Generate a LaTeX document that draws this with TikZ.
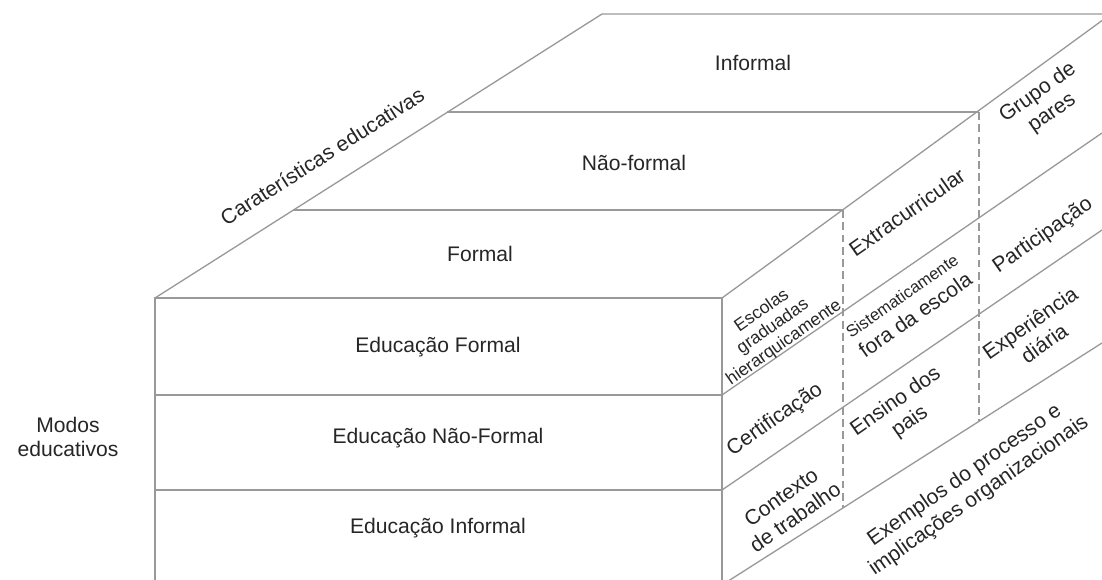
\documentclass[tikz,border=0pt]{standalone}
\usepackage{fontspec}
\setmainfont{Liberation Sans}
\usetikzlibrary{calc}

\tikzset{
  edge/.style={draw=gray!80, line width=0.75pt},
  hidden/.style={edge, dash pattern=on 4.5pt off 2.5pt},
  face/.style={font=\fontsize{12}{14}\selectfont, text=black!85, align=center},
  side/.style={face, rotate=35, inner sep=1pt},
  sidesmall/.style={side, font=\fontsize{10}{11}\selectfont},
}

\begin{document}
\begin{tikzpicture}[x=0.02cm,y=-0.02cm]
 \useasboundingbox (0,0) rectangle (1102,580);
 % front face
 \coordinate (ftl) at (155,298);
 \coordinate (ftr) at (722,298);
 \coordinate (f1l) at (155,395);
 \coordinate (f1r) at (722,395);
 \coordinate (f2l) at (155,490);
 \coordinate (f2r) at (722,490);
 \coordinate (fbl) at (155,585);
 \coordinate (fbr) at (722,585);
 % top face
 \coordinate (t1l) at (293,210);
 \coordinate (t1r) at (843,210);
 \coordinate (t2l) at (447,112);
 \coordinate (t2r) at (979,112);
 \coordinate (btl) at (602,14);
 \coordinate (btr) at (1111,14);
 % right face, where it leaves the picture
 \coordinate (b1) at (1102,133);
 \coordinate (b2) at (1102,230);
 \coordinate (b3) at (1102,343);
 \coordinate (d1) at (843,508);
 \coordinate (d2) at (979,421);

 \begin{scope}
 \clip (0,0) rectangle (1102,580);
 \draw[edge] (ftl) rectangle (fbr);
 \draw[edge] (f1l) -- (f1r);
 \draw[edge] (f2l) -- (f2r);
 \draw[edge] (ftl) -- node[face, sloped, above=9pt, pos=0.41] (carat) {Caraterísticas educativas} (btl) -- (btr);
 \draw[edge] (t1l) -- (t1r);
 \draw[edge] (t2l) -- (t2r);
 \draw[edge] (ftr) -- (btr);
 \draw[edge] (f1r) -- (b1);
 \draw[edge] (f2r) -- (b2);
 \draw[edge] (fbr) -- (b3);
 \draw[hidden] (t1r) -- (d1);
 \draw[hidden] (t2r) -- (d2);
 \end{scope}

 \node[face] (inf) at (753,63) {Informal};
 \node[face] (nform) at (634,163) {Não-formal};
 \node[face] (form) at (480,254) {Formal};
 \node[face] (edf) at (438,347) {Educação Formal};
 \node[face] (ednf) at (438,438) {Educação Não-Formal};
 \node[face] (edi) at (438,528) {Educação Informal};
 \node[face] (modos) at (68,437) {Modos\\educativos};

 \node[sidesmall] (esc) at (773,327) {Escolas\\graduadas\\hierarquicamente};
 \node[side] (extra) at (907,212) {Extracurricular};
 \node[side] (grupo) at (1045,103) {Grupo de\\pares};
 \node[side] (sist) at (909,306) {{\fontsize{9.5}{10}\selectfont Sistematicamente}\\fora da escola};
 \node[side] (partic) at (1043,236) {Participação};
 \node[side] (cert) at (775,420) {Certificação};
 \node[side] (ensino) at (903,412) {Ensino dos\\pais};
 \node[side] (exper) at (1037,333) {Experiência\\diária};
 \node[side] (contexto) at (788,507) {Contexto\\de trabalho};
 \node[side] (exemplos) at (972,486) {Exemplos do processo e\\implicações organizacionais};
\end{tikzpicture}
\end{document}
